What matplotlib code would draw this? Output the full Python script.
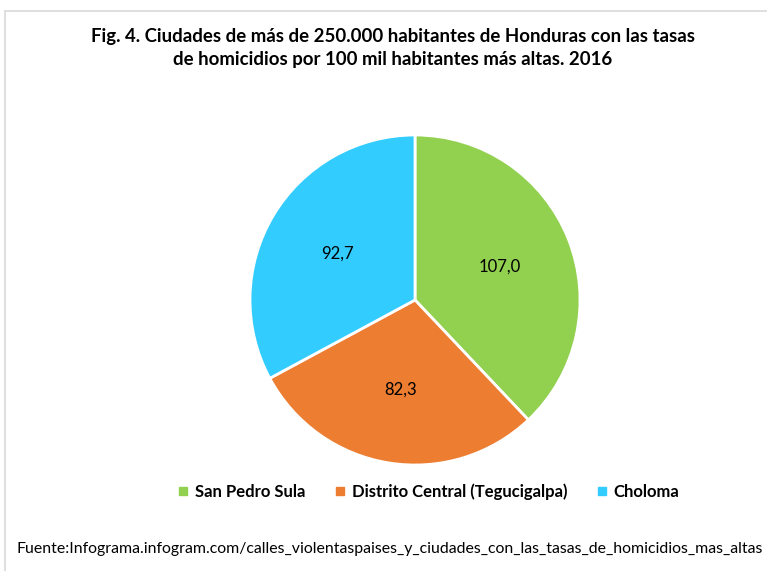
import matplotlib.pyplot as plt
from matplotlib.patches import Rectangle
from matplotlib.lines import Line2D

plt.rcParams['font.family'] = ['Lato', 'DejaVu Sans']

title = ('Fig. 4. Ciudades de más de 250.000 habitantes de Honduras con las tasas\n'
         'de homicidios por 100 mil habitantes más altas. 2016')
cities = ['San Pedro Sula', 'Distrito Central (Tegucigalpa)', 'Choloma']
rates = [107.0, 82.3, 92.7]
colors = ['#92D050', '#ED7D31', '#33CCFF']
source = 'Fuente:Infograma.infogram.com/calles_violentaspaises_y_ciudades_con_las_tasas_de_homicidios_mas_altas'

W, H = 767, 571
fig = plt.figure(figsize=(W / 100, H / 100), dpi=100)

# light frame, cropped on the right and bottom like the original screenshot
fig.patches.append(Rectangle((5 / W, -0.05), 1.1, 1 - 11 / H + 0.05,
                             transform=fig.transFigure, fill=False,
                             edgecolor='#D9D9D9', linewidth=1.2))

fig.text(0.512, 1 - 48 / H, title, ha='center', va='center',
         fontsize=13.4, fontweight='bold', linespacing=1.4)

r = 165
ax = fig.add_axes([(415 - r) / W, 1 - (300 + r) / H, 2 * r / W, 2 * r / H])
wedges, texts = ax.pie(rates, colors=colors, startangle=90, counterclock=False,
                       labels=[f'{v:.1f}'.replace('.', ',') for v in rates],
                       labeldistance=0.55,
                       wedgeprops=dict(edgecolor='white', linewidth=2),
                       textprops=dict(fontsize=12, ha='center', va='center'))
ax.set_xlim(-1, 1)
ax.set_ylim(-1, 1)
ax.set_aspect('equal')

handles = [Line2D([], [], marker='s', linestyle='none', markersize=6,
                  markerfacecolor=c, markeredgecolor=c) for c in colors]
fig.legend(handles, cities, loc='center', bbox_to_anchor=(427 / W, 1 - 492 / H),
           ncol=3, frameon=False, handletextpad=0.2, handlelength=1.0,
           columnspacing=1.6, prop=dict(size=12, weight='bold'))

fig.text(17 / W, 1 - 549 / H, source, ha='left', va='center', fontsize=11.4)

fig.savefig('out.png', dpi=100)
